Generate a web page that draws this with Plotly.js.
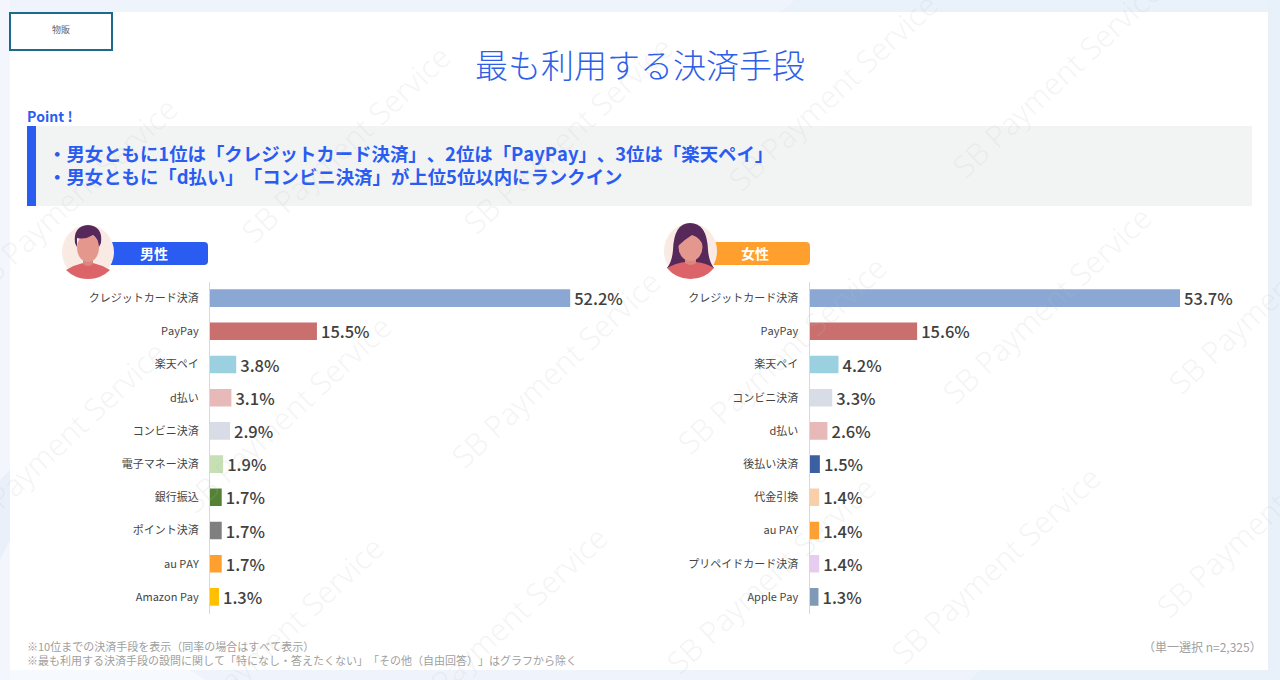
<!DOCTYPE html>
<html><head><meta charset="utf-8">
<script src="https://cdn.plot.ly/plotly-3.0.1.min.js"></script>
<style>html,body{margin:0;padding:0;background:#fff;text-spacing-trim:space-all}#c{width:1280px;height:680px}svg text{text-spacing-trim:space-all;font-kerning:none}</style></head>
<body><div id="c"></div>
<script>
const maleCategories=["クレジットカード決済","PayPay","楽天ペイ","d払い","コンビニ決済","電子マネー決済","銀行振込","ポイント決済","au PAY","Amazon Pay"];
const maleValues=[52.2,15.5,3.8,3.1,2.9,1.9,1.7,1.7,1.7,1.3];
const maleColors=["#8aa8d3","#c9706e","#9bd0e0","#e8b9b9","#d7dce6","#c6e0b4","#548235","#7f7f7f","#ff9f2e","#ffc000"];
const femaleCategories=["クレジットカード決済","PayPay","楽天ペイ","コンビニ決済","d払い","後払い決済","代金引換","au PAY","プリペイドカード決済","Apple Pay"];
const femaleValues=[53.7,15.6,4.2,3.3,2.6,1.5,1.4,1.4,1.4,1.3];
const femaleColors=["#8aa8d3","#c9706e","#9bd0e0","#d7dce6","#e8b9b9","#3b5fa0","#f8cfa8","#ff9f2e","#e6cdf0","#7f9ab5"];
const W=1280,H=680,FONT='"Noto Sans CJK JP","Noto Sans",sans-serif';
const px=x=>x/W, py=y=>1-y/H;
const blue="#2b5cf2", orange="#ff9f2e";
function bar(cats,vals,cols,xa,ya){return {type:'bar',orientation:'h',y:cats,x:vals,xaxis:xa,yaxis:ya,
 marker:{color:cols,line:{width:0}},width:0.53,text:vals.map(v=>'\u200a'+v.toFixed(1)+'%'),textposition:'outside',cliponaxis:false,constraintext:'none',
 textfont:{family:FONT,size:16.5,color:'#404040',weight:500},hoverinfo:'skip'};}
function yax(cats){return {domain:[py(613.5),py(281.5)],type:'category',categoryorder:'array',categoryarray:cats,autorange:false,range:[9.5,-0.5],
 showline:true,linecolor:'#d9d9d9',linewidth:1,ticks:'outside',ticklen:8,tickcolor:'rgba(0,0,0,0)',showgrid:false,zeroline:false,
 tickfont:{family:FONT,size:11,color:'#444'},fixedrange:true};}
function xax(x0,anchor){return {domain:[px(x0),px(x0+414)],range:[0,60],visible:false,anchor:anchor,fixedrange:true};}
function rect(x0,y0,x1,y1,fill,line,lw){return {type:'rect',xref:'paper',yref:'paper',x0:px(x0),x1:px(x1),y0:py(y0),y1:py(y1),fillcolor:fill,line:{color:line||fill,width:lw||0},layer:'below'};}
function pth(d,fill,layer){const s=d.replace(/(-?[\d.]+),(-?[\d.]+)/g,(m,a,b)=>px(+a).toFixed(5)+','+py(+b).toFixed(5));
 return {type:'path',xref:'paper',yref:'paper',path:s,fillcolor:fill,line:{width:0},layer:layer||'below'};}
function ell(cx,cy,rx,ry,fill){return {type:'circle',xref:'paper',yref:'paper',x0:px(cx-rx),x1:px(cx+rx),y0:py(cy-ry),y1:py(cy+ry),fillcolor:fill,line:{width:0},layer:'below'};}
function round(x0,y0,x1,y1,r,fill){return pth(`M${x0},${y0} L${x1-r},${y0} Q${x1},${y0} ${x1},${y0+r} L${x1},${y1-r} Q${x1},${y1} ${x1-r},${y1} L${x0},${y1} Z`,fill);}
const shapes=[
 rect(0,0,1280,680,'#eff4fc'),
 pth('M0,0 L10,0 L10,680 L0,680 Z','#f3f6fd'),
 pth('M0,480 L10,470 L10,540 L0,560 Z','#e9f0fa'),
 pth('M780,12 L795,0 L1280,0 L1280,12 Z','#e9f1fa'),
 pth('M1268,0 L1280,0 L1280,680 L1268,680 Z','#e8f0fa'),
 pth('M970,680 L980,670 L1280,670 L1280,680 Z','#e8f0fa'),
 pth('M10,670 L190,670 L205,680 L10,680 Z','#f6f9fe'),
 rect(10,12,1268,670,'#ffffff'),
 rect(27,126,1252,206,'#f2f4f4'),
 rect(27,126,36,206,blue),
 rect(10,13,112,50,'#ffffff','#1f6a8a',2),
 round(108,242,208,265,4,blue),
 round(712,242,810,265,4,orange),
 // male avatar
 ell(88,252,26,27,'#f9ebe4'),
 pth('M66,270 Q74,265 83,263 L93,263 Q102,265 110,270 Q101,279 88,279 Q75,279 66,270 Z','#dc6468'),
 pth('M83,255 L93,255 L93,264 Q88,268 83,264 Z','#d9887e'),
 ell(88,248,11,14,'#e4978c'),
 pth('M75,243 Q73,226 88,225 Q103,226 101,243 L99,247 Q98,238 93,235 Q85,240 77,238 Q77,243 77,247 Z','#56295a'),
 // female avatar
 ell(690.5,251,26.5,28,'#f9ebe4'),
 pth('M673,250 Q674,223 690,223 Q707,223 708,250 Q709,262 714,268 L667,268 Q672,262 673,250 Z','#56295a'),
 pth('M667,268 Q676,263 685,262 L696,262 Q706,263 714,268 Q705,279 690.5,279 Q676,279 667,268 Z','#dc6468'),
 pth('M685,254 L696,254 L696,263 Q690.5,267 685,263 Z','#d9887e'),
 ell(690.5,247,12,14,'#e4978c'),
 pth('M678,246 Q678,232 690,231 Q703,232 703,246 Q701,238 692,235 Q684,240 678,246 Z','#56295a')
];
function note(x,y,t,size,color,anchor,extra){return Object.assign({xref:'paper',yref:'paper',x:px(x),y:py(y),text:t,showarrow:false,xanchor:anchor||'left',yanchor:'middle',
 font:{family:FONT,size:size,color:color},align:anchor||'left'},extra||{});}
const wmCenters=[[72,196],[345,144],[567,135],[832,92],[1056,79],[60,440],[286,414],[555,369],[781,355],[1046,305],[278,635],[502,625],[770,575],[995,565],[1260,519],[1272,295]];
const watermarks=wmCenters.map(c=>note(c[0],c[1],'SB Payment Service',30.5,'rgba(190,190,190,0.16)','center',{textangle:-43,font:{family:'"Noto Sans",sans-serif',size:30.5,color:'rgba(190,190,190,0.16)',weight:300}}));
const annotations=[
 note(61,30,'物販',9,'#666','center'),
 note(640,64,'最も利用する決済手段',33,'#2f5fe8','center',{font:{family:FONT,size:33,color:'#2f5fe8',weight:300}}),
 note(25,116,'Point !',14,blue,'left',{font:{family:FONT,size:14,color:blue,weight:700}}),
 note(46,153,'・男女ともに1位は「クレジットカード決済」、2位は「PayPay」、3位は「楽天ペイ」',18.4,blue,'left',{font:{family:FONT,size:18.4,color:blue,weight:700}}),
 note(46,176,'・男女ともに「d払い」「コンビニ決済」が上位5位以内にランクイン',18.4,blue,'left',{font:{family:FONT,size:18.4,color:blue,weight:700}}),
 note(153.5,253,'男性',14,'#fff','center',{font:{family:FONT,size:14,color:'#fff',weight:700}}),
 note(755,253,'女性',14,'#fff','center',{font:{family:FONT,size:14,color:'#fff',weight:700}}),
 note(25,646,'※10位までの決済手段を表示（同率の場合はすべて表示）',11,'#a0a0a0'),
 note(25,659.5,'※最も利用する決済手段の設問に関して「特になし・答えたくない」「その他（自由回答）」はグラフから除く',11,'#a0a0a0'),
 note(1264,646,'（単一選択 n=2,325）',12,'#a0a0a0','right')
].concat(watermarks);
Plotly.newPlot('c',[bar(maleCategories,maleValues,maleColors,'x','y'),bar(femaleCategories,femaleValues,femaleColors,'x2','y2')],{
 width:W,height:H,margin:{l:0,r:0,t:0,b:0},paper_bgcolor:'#fff',plot_bgcolor:'rgba(0,0,0,0)',showlegend:false,font:{family:FONT},
 xaxis:xax(210,'y'),yaxis:yax(maleCategories),xaxis2:xax(809.5,'y2'),yaxis2:Object.assign(yax(femaleCategories),{anchor:'x2'}),
 shapes:shapes,annotations:annotations},{displayModeBar:false,staticPlot:true});
</script></body></html>
